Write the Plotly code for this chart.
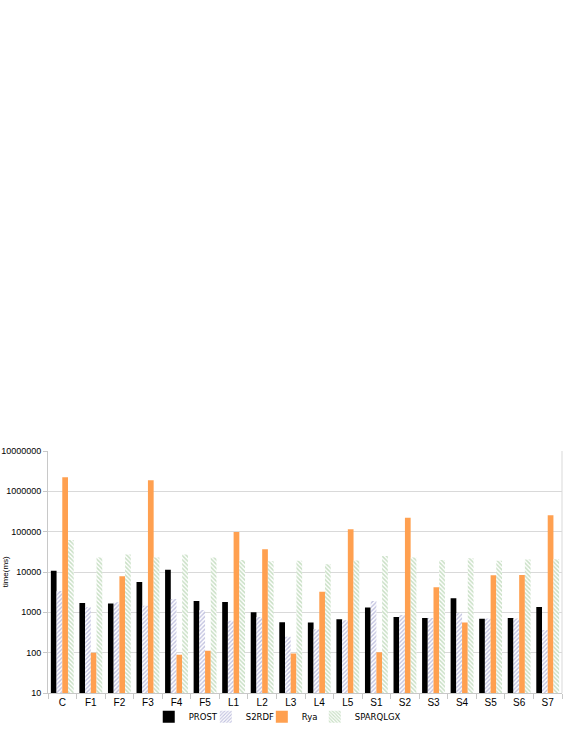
import plotly.graph_objects as go

categories = ["C", "F1", "F2", "F3", "F4", "F5", "L1", "L2", "L3", "L4", "L5",
              "S1", "S2", "S3", "S4", "S5", "S6", "S7"]
prost = [10800, 1710, 1650, 5650, 11400, 1910, 1800, 1000, 570, 560, 675,
         1310, 770, 728, 2230, 690, 728, 1360]
s2rdf = [3400, 1340, 1780, 1450, 2150, 1150, 620, 770, 247, 382, 640,
         1910, 863, 728, 950, 700, 700, 367]
rya = [2240000, 100, 7900, 1880000, 89, 111, 97500, 36500, 95, 3260, 114000,
       103, 220000, 4170, 560, 8270, 8400, 257000]
sparqlgx = [62000, 23000, 27000, 23000, 27000, 23000, 19800, 18600, 19000, 15500, 19300,
            24900, 23000, 19800, 21800, 19000, 20300, 20700]
y_ticks = [10, 100, 1000, 10000, 100000, 1000000, 10000000]
y_ticktext = ["10", "100", "1000", "10000", "100000", "1000000", "10000000"]

FONT = "Liberation Sans"

fig = go.Figure()
fig.add_trace(go.Bar(name="PROST", x=categories, y=prost, legend="legend",
                     marker=dict(color="#000000", line=dict(width=0))))
fig.add_trace(go.Bar(name="S2RDF", x=categories, y=s2rdf, legend="legend2",
                     marker=dict(color="#ffffff", line=dict(width=0),
                                 pattern=dict(shape="/", fgcolor="#8383c0", bgcolor="#ffffff",
                                              size=3, solidity=0.45, fillmode="overlay"))))
fig.add_trace(go.Bar(name="Rya", x=categories, y=rya, legend="legend3",
                     marker=dict(color="#ffa050", line=dict(width=0))))
fig.add_trace(go.Bar(name="SPARQLGX", x=categories, y=sparqlgx, legend="legend4",
                     marker=dict(color="#ffffff", line=dict(width=0),
                                 pattern=dict(shape="\\", fgcolor="#92c08a", bgcolor="#ffffff",
                                              size=3, solidity=0.5, fillmode="overlay"))))

def leg(x):
    return dict(orientation="h", x=x, xanchor="left", xref="paper",
                y=0.0195, yanchor="middle", yref="container",
                font=dict(family="DejaVu Sans", size=8.5), itemwidth=30,
                bgcolor="rgba(0,0,0,0)", borderwidth=0)

fig.update_layout(
    width=565, height=731,
    paper_bgcolor="white", plot_bgcolor="white",
    margin=dict(l=48, r=3, t=451, b=38, autoexpand=False),
    barmode="group", bargap=0.2, bargroupgap=0,
    font=dict(family=FONT, color="#000000"),
    showlegend=True,
    legend=leg(0.196), legend2=leg(0.307), legend3=leg(0.416), legend4=leg(0.519),
)
fig.update_yaxes(type="log", range=[1, 7], tickvals=y_ticks, ticktext=y_ticktext,
                 tickfont=dict(size=9, family=FONT), showgrid=True, gridcolor="#d9d9d9",
                 gridwidth=1, showline=True, linecolor="#c8c8c8", ticks="outside",
                 ticklen=4, tickcolor="#c8c8c8", mirror=False, zeroline=False,
                 automargin=False)
fig.update_xaxes(tickfont=dict(size=10, family=FONT), showline=True, linecolor="#c8c8c8",
                 ticks="outside", tickson="boundaries", ticklen=5, tickcolor="#c8c8c8",
                 showgrid=False, automargin=False)
fig.add_annotation(text="time(ms)", xref="paper", yref="paper", x=-0.083, y=0.5,
                   textangle=-90, showarrow=False, font=dict(size=8, family=FONT),
                   xanchor="center", yanchor="middle")
# right border line
fig.add_shape(type="line", xref="paper", yref="paper", x0=1, x1=1, y0=0, y1=1,
              line=dict(color="#d9d9d9", width=1))

fig.write_html("out.html", config={"displayModeBar": False},
               post_script="document.body.style.margin='0px';document.body.style.overflow='hidden';")
